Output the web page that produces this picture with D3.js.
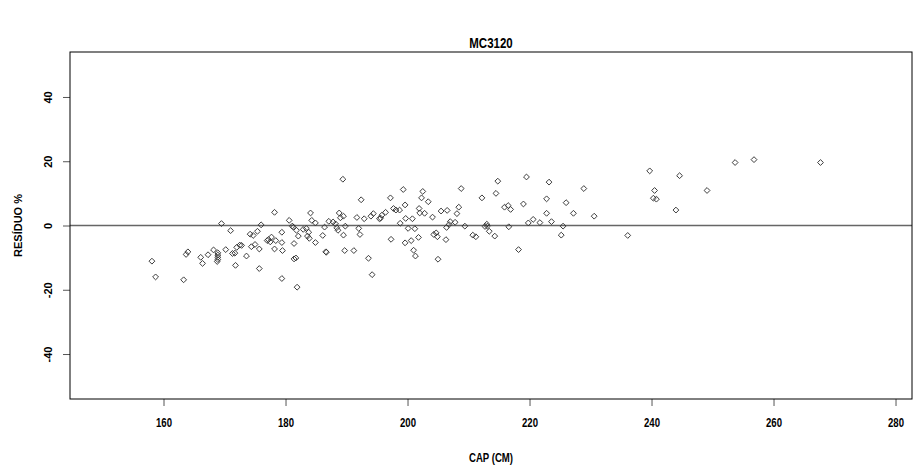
<!DOCTYPE html>
<html>
<head>
<meta charset="utf-8">
<script src="https://cdn.jsdelivr.net/npm/d3@7"></script>
<style>
  html, body { margin: 0; padding: 0; background: #fff; }
  svg { display: block; }
</style>
</head>
<body>
<svg id="chart" width="915" height="466"></svg>
<script>
const chartTitle = "MC3120";
const xLabel = "CAP (CM)";
const yLabel = "RESÍDUO %";
const xTicks = [160, 180, 200, 220, 240, 260, 280];
const yTicks = [-40, -20, 0, 20, 40];

const cap = [
158.1,158.7,163.3,163.7,164.0,166.1,166.4,167.3,168.2,168.9,168.9,168.9,168.9,168.8,169.5,170.2,171.0,171.3,171.7,171.8,
172.0,172.5,172.8,173.6,174.2,174.4,174.7,175.0,175.4,175.7,175.7,176.0,177.0,177.2,177.5,177.7,178.2,178.2,178.4,179.4,
179.4,179.5,179.4,180.6,181.1,181.3,181.4,181.8,181.4,181.7,181.9,182.1,182.9,183.4,183.6,183.9,183.8,184.1,184.3,184.9,
184.9,186.1,186.4,186.6,186.7,187.1,187.8,188.2,188.4,188.6,188.8,189.0,189.4,189.5,189.5,189.8,189.7,191.2,191.7,192.0,
192.2,192.4,192.9,193.6,194.0,194.4,194.2,195.4,195.6,195.8,196.4,197.2,197.3,197.7,198.1,198.7,198.8,199.3,199.6,199.7,
199.6,200.1,200.6,200.8,201.0,201.2,201.3,201.8,201.9,202.0,202.3,202.5,202.8,203.4,204.1,204.3,204.7,204.9,205.0,205.5,
206.5,206.3,206.4,206.8,207.0,207.8,208.1,208.4,208.8,209.4,210.7,211.2,212.2,212.7,213.0,213.1,213.4,214.3,214.5,214.8,
215.9,216.5,216.9,216.6,218.2,219.0,219.5,219.8,220.6,221.7,222.8,222.8,223.2,223.6,225.2,225.5,226.0,227.2,228.9,230.6,
236.1,239.7,240.5,240.3,240.8,244.6,244.0,249.1,253.7,256.8,267.7
];
const residuo = [
-11.1,-16.0,-16.9,-9.0,-8.2,-9.9,-11.8,-9.1,-7.6,-8.5,-9.2,-9.9,-10.6,-11.2,0.6,-7.5,-1.6,-8.7,-8.6,-12.4,
-6.8,-6.1,-6.2,-9.5,-2.7,-6.6,-3.1,-5.9,-1.8,-7.3,-13.4,0.2,-4.7,-4.4,-5.1,-3.6,4.1,-7.3,-4.7,-2.1,
-5.3,-7.8,-16.5,1.6,-0.2,-0.5,-5.6,-1.5,-10.4,-10.1,-19.2,-3.3,-1.2,-0.9,-3.3,-4.0,-2.1,3.9,1.6,0.8,
-5.3,-3.1,-0.5,-8.2,-8.3,1.3,1.1,0.5,-0.7,-1.5,3.9,2.4,14.4,2.9,-3.0,-0.2,-7.8,-7.8,2.5,-0.9,
-2.8,8.0,2.1,-10.2,2.9,3.7,-15.3,2.1,2.3,3.2,4.1,8.6,-4.3,5.3,4.8,4.8,0.7,11.2,6.4,2.2,
-5.4,-0.9,-4.7,2.1,-7.7,-1.0,-9.5,-3.7,5.3,3.9,8.6,10.6,3.8,7.4,2.6,-2.8,-2.3,-3.5,-10.5,4.5,
4.7,-4.4,-0.6,0.3,1.2,1.0,3.7,5.7,11.5,-0.2,-3.0,-3.5,8.6,-0.3,0.4,-0.2,-1.8,-3.3,10.0,13.8,
5.7,6.2,5.0,-0.4,-7.5,6.7,15.1,0.8,1.9,0.9,8.3,3.8,13.5,1.2,-3.0,-0.2,7.1,3.8,11.5,2.9,
-3.1,17.0,10.9,8.5,8.2,15.5,4.8,10.9,19.6,20.5,19.6
];

const svg = d3.select("#chart");
const mLeft = 70, mRight = 912, mTop = 52, mBottom = 399;

const x = d3.scaleLinear().domain([144.67, 282.7]).range([mLeft, mRight]);
const y = d3.scaleLinear().domain([-54, 54]).range([mBottom, mTop]);

const sans = "'Liberation Sans', Arial, sans-serif";

// title (condensed bold)
svg.append("text")
  .attr("transform", `translate(${(mLeft + mRight) / 2},48) scale(0.82,1)`)
  .attr("text-anchor", "middle")
  .style("font-family", sans).style("font-weight", "bold").style("font-size", "14px")
  .text(chartTitle);

// zero line
svg.append("line")
  .attr("x1", mLeft).attr("x2", mRight)
  .attr("y1", y(0)).attr("y2", y(0))
  .attr("stroke", "#666").attr("stroke-width", 1.6);

// x axis
const xAxis = d3.axisBottom(x).tickValues(xTicks).tickSize(7).tickPadding(12).tickFormat(d => String(d));
const gx = svg.append("g").attr("transform", `translate(0,${mBottom})`).call(xAxis);
gx.select(".domain").remove();
gx.selectAll(".tick line").attr("stroke", "#555");
gx.selectAll(".tick text")
  .attr("transform", "scale(0.8,1)")
  .style("font-family", sans).style("font-weight", "bold").style("font-size", "12px").attr("fill", "#000");

// y axis
const yAxis = d3.axisLeft(y).tickValues(yTicks).tickSize(7).tickPadding(0).tickFormat(d => String(d));
const gy = svg.append("g").attr("transform", `translate(${mLeft},0)`).call(yAxis);
gy.select(".domain").remove();
gy.selectAll(".tick line").attr("stroke", "#555");
gy.selectAll(".tick text")
  .attr("x", 0)
  .attr("text-anchor", "middle")
  .attr("transform", "translate(-22,0) rotate(-90)")
  .attr("dy", "0.35em")
  .style("font-family", sans).style("font-weight", "bold").style("font-size", "11px").attr("fill", "#000");

// axis labels
svg.append("text")
  .attr("transform", `translate(${(mLeft + mRight) / 2},462) scale(0.8,1)`)
  .attr("text-anchor", "middle")
  .style("font-family", sans).style("font-weight", "bold").style("font-size", "12px")
  .text(xLabel);

svg.append("text")
  .attr("transform", `translate(18,${y(0)}) rotate(-90)`)
  .attr("text-anchor", "middle").attr("dy", "0.35em")
  .style("font-family", sans).style("font-weight", "bold").style("font-size", "11px")
  .text(yLabel);

// box
svg.append("rect")
  .attr("x", mLeft).attr("y", mTop)
  .attr("width", mRight - mLeft).attr("height", mBottom - mTop)
  .attr("fill", "none").attr("stroke", "#000").attr("stroke-width", 1);

// points (open diamonds)
const diamond = d3.symbol().type(d3.symbolSquare).size(17);
svg.append("g").selectAll("path")
  .data(cap.map((c, i) => [c, residuo[i]]))
  .join("path")
  .attr("d", diamond)
  .attr("transform", d => `translate(${x(d[0])},${y(d[1])}) rotate(45)`)
  .attr("fill", "none").attr("stroke", "#333").attr("stroke-width", 0.9);
</script>
</body>
</html>
